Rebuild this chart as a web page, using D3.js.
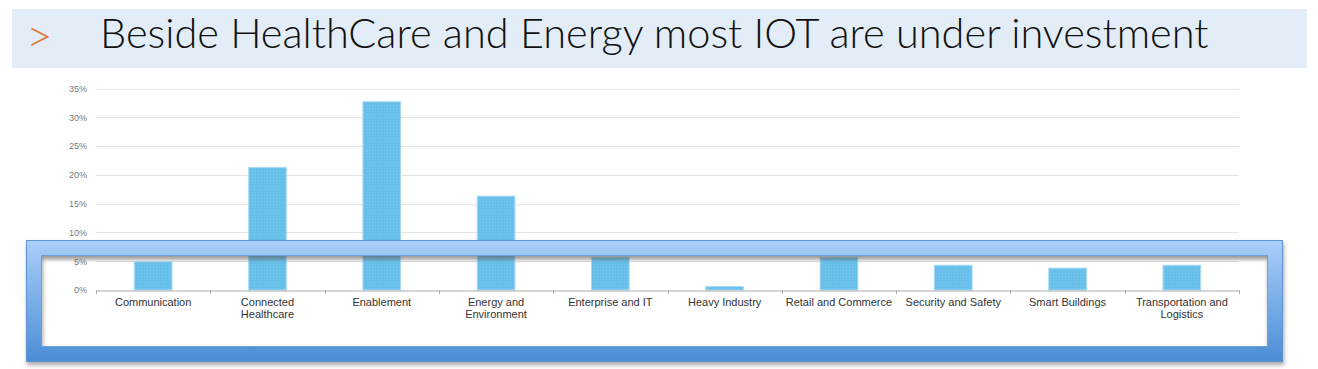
<!DOCTYPE html>
<html>
<head>
<meta charset="utf-8">
<script src="https://cdn.jsdelivr.net/npm/d3@7"></script>
<style>
  body { margin: 0; background: #fff; }
  svg { display: block; }
</style>
</head>
<body>
<svg id="chart" width="1318" height="369"></svg>
<script>
"use strict";
const titleText = 'Beside HealthCare and Energy most IOT are under investment';
const categories = ['Communication', 'Connected Healthcare', 'Enablement', 'Energy and Environment',
    'Enterprise and IT', 'Heavy Industry', 'Retail and Commerce', 'Security and Safety',
    'Smart Buildings', 'Transportation and Logistics'];
const tickLines = [['Communication'], ['Connected', 'Healthcare'], ['Enablement'], ['Energy and', 'Environment'],
    ['Enterprise and IT'], ['Heavy Industry'], ['Retail and Commerce'], ['Security and Safety'],
    ['Smart Buildings'], ['Transportation and', 'Logistics']];
const shares = [4.9, 21.3, 32.7, 16.3, 5.7, 0.6, 5.7, 4.3, 3.8, 4.3];
const yTicks = [0, 5, 10, 15, 20, 25, 30, 35];

const svg = d3.select('#chart');
const defs = svg.append('defs');

// title banner
svg.append('rect').attr('x', 12).attr('y', 9).attr('width', 1295).attr('height', 59).attr('fill', '#e3edf7');
svg.append('text').attr('x', 26).attr('y', 52).attr('fill', '#e07b3c')
    .attr('font-family', 'Lato, sans-serif').attr('font-weight', 300).attr('font-size', 46).text('>');
const title = svg.append('text').attr('x', 100).attr('y', 48).attr('fill', '#111')
    .attr('font-family', 'Lato, sans-serif').attr('font-weight', 300).attr('font-size', 33).text(titleText);
const tw = title.node().getComputedTextLength();
title.attr('font-size', 33 * 1109 / tw);

// chart
const x = d3.scaleBand().domain(categories).range([96, 1239]).paddingInner(0.67).paddingOuter(0.335);
const y = d3.scaleLinear().domain([0, 35]).range([290, 88.5]);

svg.append('g').selectAll('line').data(yTicks.slice(1)).enter().append('line')
    .attr('x1', 96).attr('x2', 1239)
    .attr('y1', d => Math.round(y(d)) + 0.5).attr('y2', d => Math.round(y(d)) + 0.5)
    .attr('stroke', '#e4e4e4');

const yAxis = svg.append('g').attr('transform', 'translate(96,0)')
    .call(d3.axisLeft(y).tickValues(yTicks).tickFormat(d => d + '%').tickSize(0).tickPadding(9));
yAxis.select('.domain').remove();
yAxis.selectAll('text').attr('font-family', 'Liberation Sans, Arial, sans-serif')
    .attr('font-size', 9).attr('fill', '#777');

const pat = defs.append('pattern').attr('id', 'dots').attr('width', 3).attr('height', 3)
    .attr('patternUnits', 'userSpaceOnUse');
pat.append('rect').attr('width', 3).attr('height', 3).attr('fill', '#68c0ea');
pat.append('rect').attr('width', 1).attr('height', 1).attr('fill', '#7ccaee');

svg.append('g').selectAll('rect').data(shares).enter().append('rect')
    .attr('x', (d, i) => x(categories[i]))
    .attr('y', d => y(d))
    .attr('width', x.bandwidth())
    .attr('height', d => y(0) - y(d))
    .attr('fill', 'url(#dots)')
    .attr('stroke', '#a9dcf4').attr('stroke-width', 1);

const xAxis = svg.append('g').attr('transform', 'translate(0,290.5)')
    .call(d3.axisBottom(x).tickSize(0).tickFormat(''));
xAxis.select('.domain').attr('stroke', '#aaa');
xAxis.selectAll('.tick').remove();
const step = x.step();
const bounds = d3.range(categories.length + 1).map(i => 96 + i * step);
svg.append('g').selectAll('line').data(bounds).enter().append('line')
    .attr('x1', d => Math.round(d) + 0.5).attr('x2', d => Math.round(d) + 0.5)
    .attr('y1', 290).attr('y2', 294).attr('stroke', '#aaa');

const lbl = svg.append('g').selectAll('text').data(categories).enter().append('text')
    .attr('x', d => x(d) + x.bandwidth() / 2)
    .attr('y', 306)
    .attr('text-anchor', 'middle')
    .attr('font-family', 'Liberation Sans, Arial, sans-serif')
    .attr('font-size', 11).attr('fill', '#333');
lbl.each(function (d, i) {
    const t = d3.select(this);
    tickLines[i].forEach((ln, k) => {
        t.append('tspan').attr('x', x(d) + x.bandwidth() / 2).attr('dy', k ? 12 : 0).text(ln);
    });
});

// highlight frame overlay
const grad = defs.append('linearGradient').attr('id', 'frameGrad').attr('x1', 0).attr('y1', 0).attr('x2', 0).attr('y2', 1);
grad.append('stop').attr('offset', 0).attr('stop-color', '#aacff9');
grad.append('stop').attr('offset', 1).attr('stop-color', '#4a8dd6');
const shadow = defs.append('filter').attr('id', 'shadow').attr('x', -0.05).attr('y', -0.2).attr('width', 1.1).attr('height', 1.5);
shadow.append('feDropShadow').attr('dx', 1).attr('dy', 3).attr('stdDeviation', 2).attr('flood-color', '#000').attr('flood-opacity', 0.35);
const inner = defs.append('linearGradient').attr('id', 'innerShade').attr('x1', 0).attr('y1', 0).attr('x2', 0).attr('y2', 1);
inner.append('stop').attr('offset', 0).attr('stop-color', '#888').attr('stop-opacity', 0.45);
inner.append('stop').attr('offset', 1).attr('stop-color', '#888').attr('stop-opacity', 0);

const fo = { x0: 26, y0: 240, x1: 1283, y1: 362 };
const fi = { x0: 42, y0: 256, x1: 1267, y1: 346 };
const framePath = `M${fo.x0},${fo.y0}H${fo.x1}V${fo.y1}H${fo.x0}Z M${fi.x0},${fi.y0}V${fi.y1}H${fi.x1}V${fi.y0}Z`;
svg.append('path').attr('d', framePath).attr('fill', 'url(#frameGrad)').attr('fill-rule', 'evenodd')
    .attr('filter', 'url(#shadow)');
svg.append('rect').attr('x', fo.x0 + 0.5).attr('y', fo.y0 + 0.5).attr('width', fo.x1 - fo.x0 - 1).attr('height', fo.y1 - fo.y0 - 1)
    .attr('fill', 'none').attr('stroke', '#5f93d2');
svg.append('rect').attr('x', fi.x0 - 0.5).attr('y', fi.y0 - 0.5).attr('width', fi.x1 - fi.x0 + 1).attr('height', fi.y1 - fi.y0 + 1)
    .attr('fill', 'none').attr('stroke', '#6f9fd8');
svg.append('rect').attr('x', fi.x0).attr('y', fi.y0).attr('width', fi.x1 - fi.x0).attr('height', 6)
    .attr('fill', 'url(#innerShade)');
</script>
</body>
</html>
